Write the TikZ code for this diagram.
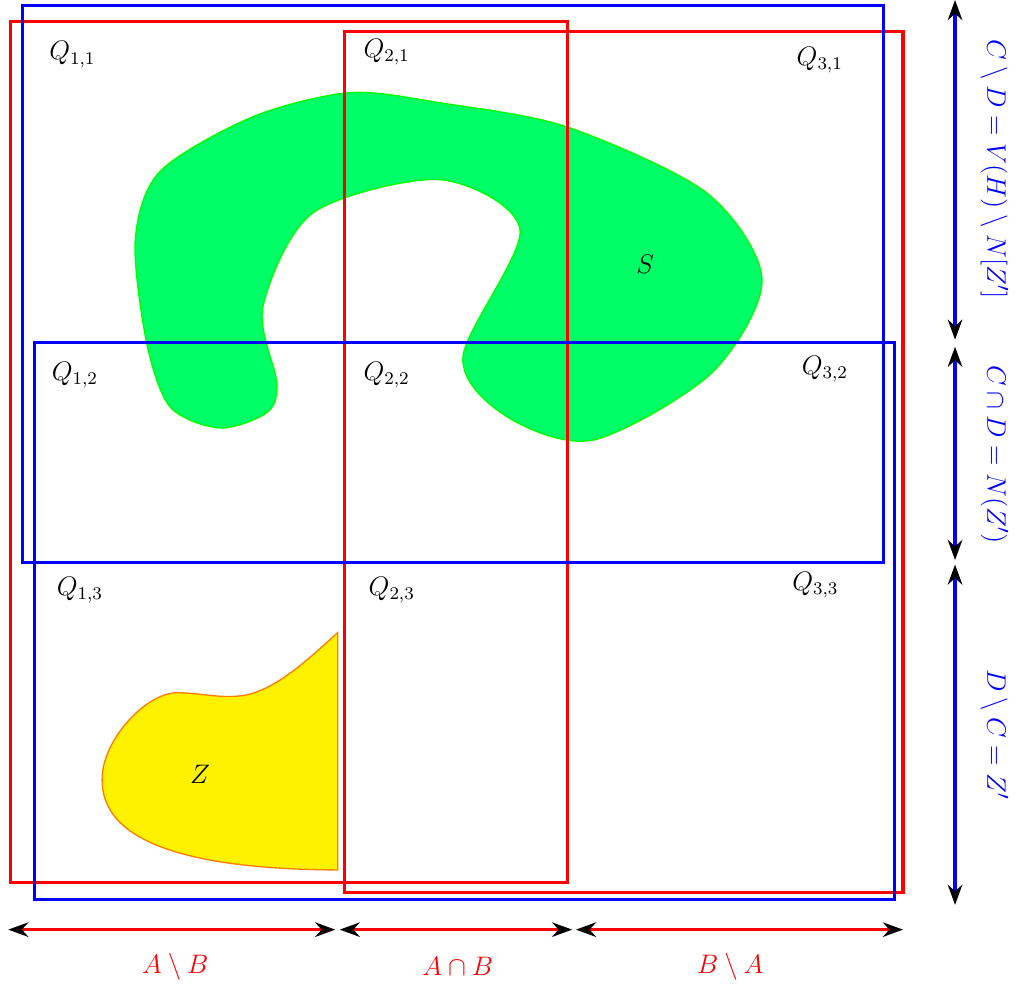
\documentclass[tikz,border=0pt]{standalone}
\usepackage{amsmath,amssymb}
\usepackage{tikz}
\usetikzlibrary{arrows.meta}
\usepackage{xcolor}
\definecolor{blobgreen}{HTML}{00FF66}

\tikzset{
  setbox/.style={line width=1.4pt},
  span/.style={line width=1.4pt, {Stealth[black,length=9pt,width=6.5pt]}-{Stealth[black,length=9pt,width=6.5pt]}},
  spanlabel/.style={font=\fontsize{13.2pt}{16pt}\selectfont},
}

\begin{document}
\begin{tikzpicture}
  \useasboundingbox (0,0) rectangle (16,15.54);
  % the set S and the set Z
  \filldraw[fill=blobgreen, draw=green, semithick] plot[smooth cycle] coordinates {
    (5.51,14.08) (3.98,13.70) (2.52,12.84) (2.13,11.76) (2.31,10.14) (2.68,9.13)
    (3.46,8.80) (4.20,9.04) (4.36,9.50) (4.14,10.71) (4.93,12.19) (6.93,12.71)
    (8.19,11.92) (7.29,9.92) (7.98,8.98) (9.34,8.61) (11.2,9.66) (12.0,11.13)
    (11.13,12.50) (8.93,13.54) (6.93,13.92)};
  \node[font=\large] (S) at (10.16,11.37) {$S$};
  \filldraw[fill=yellow, draw=orange, semithick] (5.32,5.58) -- (5.32,1.84)
    .. controls (3.2,1.85) and (1.55,2.2) .. (1.61,3.31)
    .. controls (1.63,3.9) and (2.3,4.63) .. (2.79,4.63)
    .. controls (3.2,4.63) and (3.5,4.52) .. (3.9,4.6)
    .. controls (4.4,4.72) and (4.9,5.2) .. (5.32,5.58) -- cycle;
  \node[font=\large] (Z) at (3.15,3.34) {$Z$};
  % A, B red, C, D blue
  \draw[setbox, red] (0.16,1.64) rectangle (8.94,15.20);
  \draw[setbox, red] (5.43,1.48) rectangle (14.22,15.04);
  \draw[setbox, blue] (0.35,6.68) rectangle (13.91,15.45);
  \draw[setbox, blue] (0.55,1.37) rectangle (14.09,10.14);
  \foreach \i/\j/\x/\y in {1/1/1.14/14.68, 2/1/6.09/14.72, 3/1/12.91/14.60,
                           1/2/1.18/9.64, 2/2/6.09/9.64, 3/2/12.99/9.72,
                           1/3/1.26/6.24, 2/3/6.17/6.25, 3/3/12.84/6.33}
    \node[font=\large] (q\i\j) at (\x,\y) {$Q_{\i,\j}$};
  % spans along the bottom
  \coordinate (h0) at (0.13,0.9);
  \coordinate (h1) at (5.28,0.9);
  \coordinate (h2) at (5.35,0.9);
  \coordinate (h3) at (9.01,0.9);
  \coordinate (h4) at (9.07,0.9);
  \coordinate (h5) at (14.22,0.9);
  \draw[span, red] (h0) -- (h1);
  \draw[span, red] (h2) -- (h3);
  \draw[span, red] (h4) -- (h5);
  \node[spanlabel, red] (amb) at (2.76,0.32) {$A\setminus B$};
  \node[spanlabel, red] (anb) at (7.21,0.32) {$A\cap B$};
  \node[spanlabel, red] (bma) at (11.5,0.32) {$B\setminus A$};
  % spans on the right
  \coordinate (v0) at (15.04,15.54);
  \coordinate (v1) at (15.04,10.19);
  \coordinate (v2) at (15.04,10.08);
  \coordinate (v3) at (15.04,6.72);
  \coordinate (v4) at (15.04,6.65);
  \coordinate (v5) at (15.04,1.29);
  \draw[span, blue] (v0) -- (v1);
  \draw[span, blue] (v2) -- (v3);
  \draw[span, blue] (v4) -- (v5);
  \node[spanlabel, blue, rotate=-90] (cmd) at (15.66,12.87) {$C\setminus D = V(H)\setminus N[Z']$};
  \node[spanlabel, blue, rotate=-90] (cnd) at (15.66,8.38) {$C\cap D = N(Z')$};
  \node[spanlabel, blue, rotate=-90] (dmc) at (15.66,3.97) {$D\setminus C = Z'$};
\end{tikzpicture}
\end{document}
